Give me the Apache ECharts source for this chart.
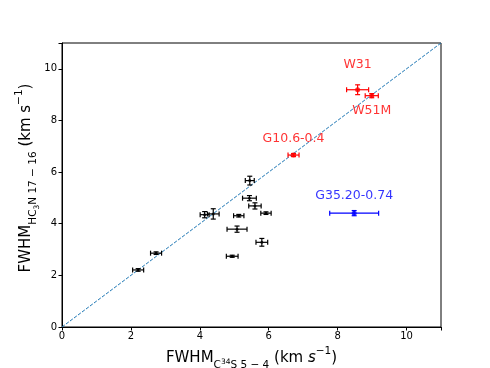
<!DOCTYPE html>
<html>
<head>
<meta charset="utf-8">
<script src="https://cdn.jsdelivr.net/npm/echarts@6/dist/echarts.min.js"></script>
<style>
  html, body { margin: 0; padding: 0; background: #fff; }
  #chart { width: 490px; height: 368px; }
</style>
</head>
<body>
<div id="chart"></div>
<script>
// black sources
const xBlack = [2.21, 2.73, 4.14, 4.39, 5.45, 5.44, 5.60, 5.92, 5.13, 5.08, 5.80, 4.94]
const yBlack = [2.21, 2.86, 4.35, 4.38, 5.67, 4.99, 4.69, 4.41, 4.31, 3.79, 3.28, 2.74]
const xErrBlack = [0.16, 0.16, 0.13, 0.17, 0.13, 0.20, 0.18, 0.15, 0.15, 0.29, 0.17, 0.17]
const yErrBlack = [0.05, 0.05, 0.12, 0.20, 0.17, 0.10, 0.12, 0.05, 0.05, 0.12, 0.15, 0.04]

// red sources
const redNames = ['W31', 'W51M', 'G10.6-0.4']
const xRed = [8.58, 8.99, 6.72]
const yRed = [9.19, 8.96, 6.66]
const xErrRed = [0.32, 0.19, 0.16]
const yErrRed = [0.19, 0.08, 0.06]

// blue source
const blueNames = ['G35.20-0.74']
const xBlue = [8.48]
const yBlue = [4.41]
const xErrBlue = [0.71]
const yErrBlue = [0.10]

const oneToOne = [[0, 0], [11, 11]]
const xTicks = [0, 2, 4, 6, 8, 10]

const font = 'DejaVu Sans'

function zip(xs, ys, ex, ey, names) {
  return xs.map((x, i) => ({
    value: [x, ys[i], ex[i], ey[i]],
    name: names ? names[i] : ''
  }))
}

function errorBars(color) {
  return function (params, api) {
    const x = api.value(0), y = api.value(1)
    const ex = api.value(2), ey = api.value(3)
    const l = api.coord([x - ex, y]), r = api.coord([x + ex, y])
    const b = api.coord([x, y - ey]), t = api.coord([x, y + ey])
    const c = 2.5
    const style = { stroke: color, lineWidth: 1.2 }
    return {
      type: 'group',
      children: [
        { type: 'line', shape: { x1: l[0], y1: l[1], x2: r[0], y2: r[1] }, style },
        { type: 'line', shape: { x1: l[0], y1: l[1] - c, x2: l[0], y2: l[1] + c }, style },
        { type: 'line', shape: { x1: r[0], y1: r[1] - c, x2: r[0], y2: r[1] + c }, style },
        { type: 'line', shape: { x1: b[0], y1: b[1], x2: t[0], y2: t[1] }, style },
        { type: 'line', shape: { x1: b[0] - c, y1: b[1], x2: b[0] + c, y2: b[1] }, style },
        { type: 'line', shape: { x1: t[0] - c, y1: t[1], x2: t[0] + c, y2: t[1] }, style }
      ]
    }
  }
}

const labelOffsets = {
  'W31': [0, -25],
  'W51M': [0, 15],
  'G10.6-0.4': [0, -16],
  'G35.20-0.74': [0, -17]
}

function pointSeries(data, color, size) {
  return {
    type: 'scatter',
    data: data.map(d => ({
      value: d.value,
      name: d.name,
      label: d.name ? {
        show: true,
        formatter: '{b}',
        color: color,
        fontFamily: font,
        fontSize: 12.5,
        position: 'inside',
        offset: labelOffsets[d.name]
      } : { show: false }
    })),
    symbol: 'circle',
    symbolSize: size,
    itemStyle: { color: color },
    z: 5,
    silent: true
  }
}

const blackData = zip(xBlack, yBlack, xErrBlack, yErrBlack)
const redData = zip(xRed, yRed, xErrRed, yErrRed, redNames)
const blueData = zip(xBlue, yBlue, xErrBlue, yErrBlue, blueNames)

const chart = echarts.init(document.getElementById('chart'), null, { renderer: 'canvas' })

const nameRich = {
  m: { fontSize: 15, fontFamily: font, color: '#000', lineHeight: 20, verticalAlign: 'bottom' },
  i: { fontSize: 15, fontFamily: font, fontStyle: 'italic', color: '#000', lineHeight: 20, verticalAlign: 'bottom' },
  s: { fontSize: 10.5, fontFamily: font, color: '#000', lineHeight: 20, verticalAlign: 'bottom', padding: [0, 0, -5, 0] },
  sup2: { fontSize: 7.5, fontFamily: font, color: '#000', lineHeight: 20, verticalAlign: 'bottom', padding: [0, 0, 0, 0] },
  sub2: { fontSize: 7.5, fontFamily: font, color: '#000', lineHeight: 20, verticalAlign: 'bottom', padding: [0, 0, -7, 0] },
  sup: { fontSize: 10.5, fontFamily: font, color: '#000', lineHeight: 20, verticalAlign: 'top' }
}

chart.setOption({
  animation: false,
  backgroundColor: '#fff',
  textStyle: { fontFamily: font },
  grid: {
    left: 62, right: 49, top: 43, bottom: 41,
    outerBoundsMode: 'none',
    containLabel: false,
    show: true, borderColor: '#000', borderWidth: 1
  },
  xAxis: {
    type: 'value',
    min: 0, max: 11, interval: 2,
    axisLine: { show: true, lineStyle: { color: '#000' } },
    axisTick: { show: true, length: 3.5, lineStyle: { color: '#000' } },
    splitLine: { show: false },
    axisLabel: {
      color: '#000', fontSize: 10, fontFamily: font, margin: 4,
      formatter: v => (xTicks.indexOf(v) >= 0 ? String(v) : '')
    },
    name: '{m|FWHM}{s|C}{sup2|34}{s|S 5 − 4}{m| (km }{i|s}{sup|−1}{m|)}',
    nameLocation: 'middle',
    nameGap: 17,
    nameTextStyle: { rich: nameRich }
  },
  yAxis: {
    type: 'value',
    min: 0, max: 11, interval: 2,
    axisLine: { show: true, lineStyle: { color: '#000' } },
    axisTick: { show: true, length: 3.5, lineStyle: { color: '#000' } },
    splitLine: { show: false },
    axisLabel: {
      color: '#000', fontSize: 10, fontFamily: font, margin: 5,
      formatter: v => (v <= 10 ? String(v) : '')
    },
    name: '{m|FWHM}{s|HC}{sub2|3}{s|N 17 − 16}{m| (km s}{sup|−1}{m|)}',
    nameLocation: 'middle',
    nameGap: 28,
    nameMoveOverlap: false,
    nameRotate: 90,
    nameTextStyle: { rich: nameRich, padding: [0, 0, 0, 14] }
  },
  series: [
    {
      type: 'line',
      data: oneToOne,
      symbol: 'none',
      lineStyle: { color: '#1f77b4', width: 1, type: [3.5, 1.5] },
      z: 1,
      silent: true
    },
    { type: 'custom', data: blackData.map(d => d.value), renderItem: errorBars('#000'), z: 3, silent: true },
    { type: 'custom', data: redData.map(d => d.value), renderItem: errorBars('#ff0000'), z: 3, silent: true },
    { type: 'custom', data: blueData.map(d => d.value), renderItem: errorBars('#0000ff'), z: 3, silent: true },
    pointSeries(blackData, '#000', 3),
    pointSeries(redData, '#ff0000', 5),
    pointSeries(blueData, '#0000ff', 5)
  ]
})
</script>
</body>
</html>
